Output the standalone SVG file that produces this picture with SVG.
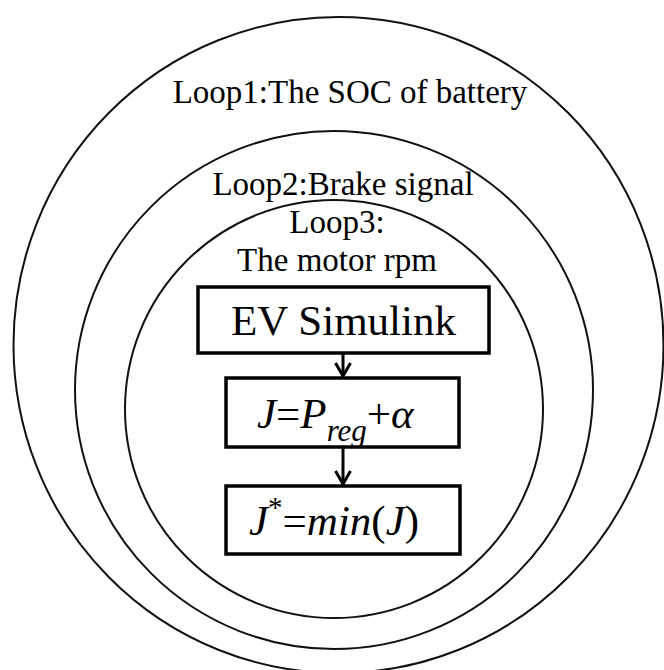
<svg xmlns="http://www.w3.org/2000/svg" width="664" height="670" viewBox="0 0 664 670">
  <style>
    .loop { fill: none; stroke: #111; stroke-width: 2; }
    .box { fill: #fff; stroke: #000; stroke-width: 3.5; }
    .lbl { font-family: "Liberation Serif", "Times New Roman", serif; font-size: 33px; fill: #000; }
    .big { font-family: "Liberation Serif", "Times New Roman", serif; font-size: 43px; fill: #000; }
    .it { font-style: italic; }
    .conn { stroke: #000; stroke-width: 3; fill: none; }
  </style>
  <defs>
    <marker id="arrhead" markerWidth="20" markerHeight="20" refX="14" refY="8" orient="auto" markerUnits="userSpaceOnUse" viewBox="0 0 20 16">
      <path d="M1,0.5 L14,8 L1,15.5" fill="none" stroke="#000" stroke-width="3"/>
    </marker>
  </defs>

  <g id="loop1">
    <ellipse class="loop" cx="338.5" cy="345" rx="325" ry="328"/>
    <text class="lbl" x="350" y="103" text-anchor="middle">Loop1:The SOC of battery</text>
  </g>
  <g id="loop2">
    <circle class="loop" cx="334" cy="390" r="259"/>
    <text class="lbl" x="343" y="195" text-anchor="middle">Loop2:Brake signal</text>
  </g>
  <g id="loop3">
    <circle class="loop" cx="334" cy="409" r="209"/>
    <text class="lbl" x="337" y="233" text-anchor="middle">Loop3:</text>
    <text class="lbl" x="337" y="271" text-anchor="middle">The motor rpm</text>
  </g>

  <g id="connectors">
    <line class="conn" x1="343" y1="353" x2="343" y2="376" marker-end="url(#arrhead)"/>
    <line class="conn" x1="343" y1="447" x2="343" y2="484" marker-end="url(#arrhead)"/>
  </g>

  <g id="ev-simulink">
    <rect class="box" x="198" y="287" width="291" height="66"/>
    <text class="big" x="343.5" y="335" text-anchor="middle">EV Simulink</text>
  </g>
  <g id="cost-function">
    <rect class="box" x="226" y="378" width="233" height="69"/>
    <text class="big" x="257" y="428" font-size="45"><tspan class="it">J</tspan>=<tspan class="it">P</tspan><tspan class="it" font-size="31" dy="13">reg</tspan><tspan dy="-13">+</tspan><tspan class="it">α</tspan></text>
  </g>
  <g id="minimization">
    <rect class="box" x="226" y="486" width="234" height="68"/>
    <text class="big" x="249" y="535" font-size="46"><tspan class="it">J</tspan><tspan font-size="29" dy="-18">*</tspan><tspan dy="18">=</tspan><tspan class="it">min</tspan>(<tspan class="it">J</tspan>)</text>
  </g>
</svg>
